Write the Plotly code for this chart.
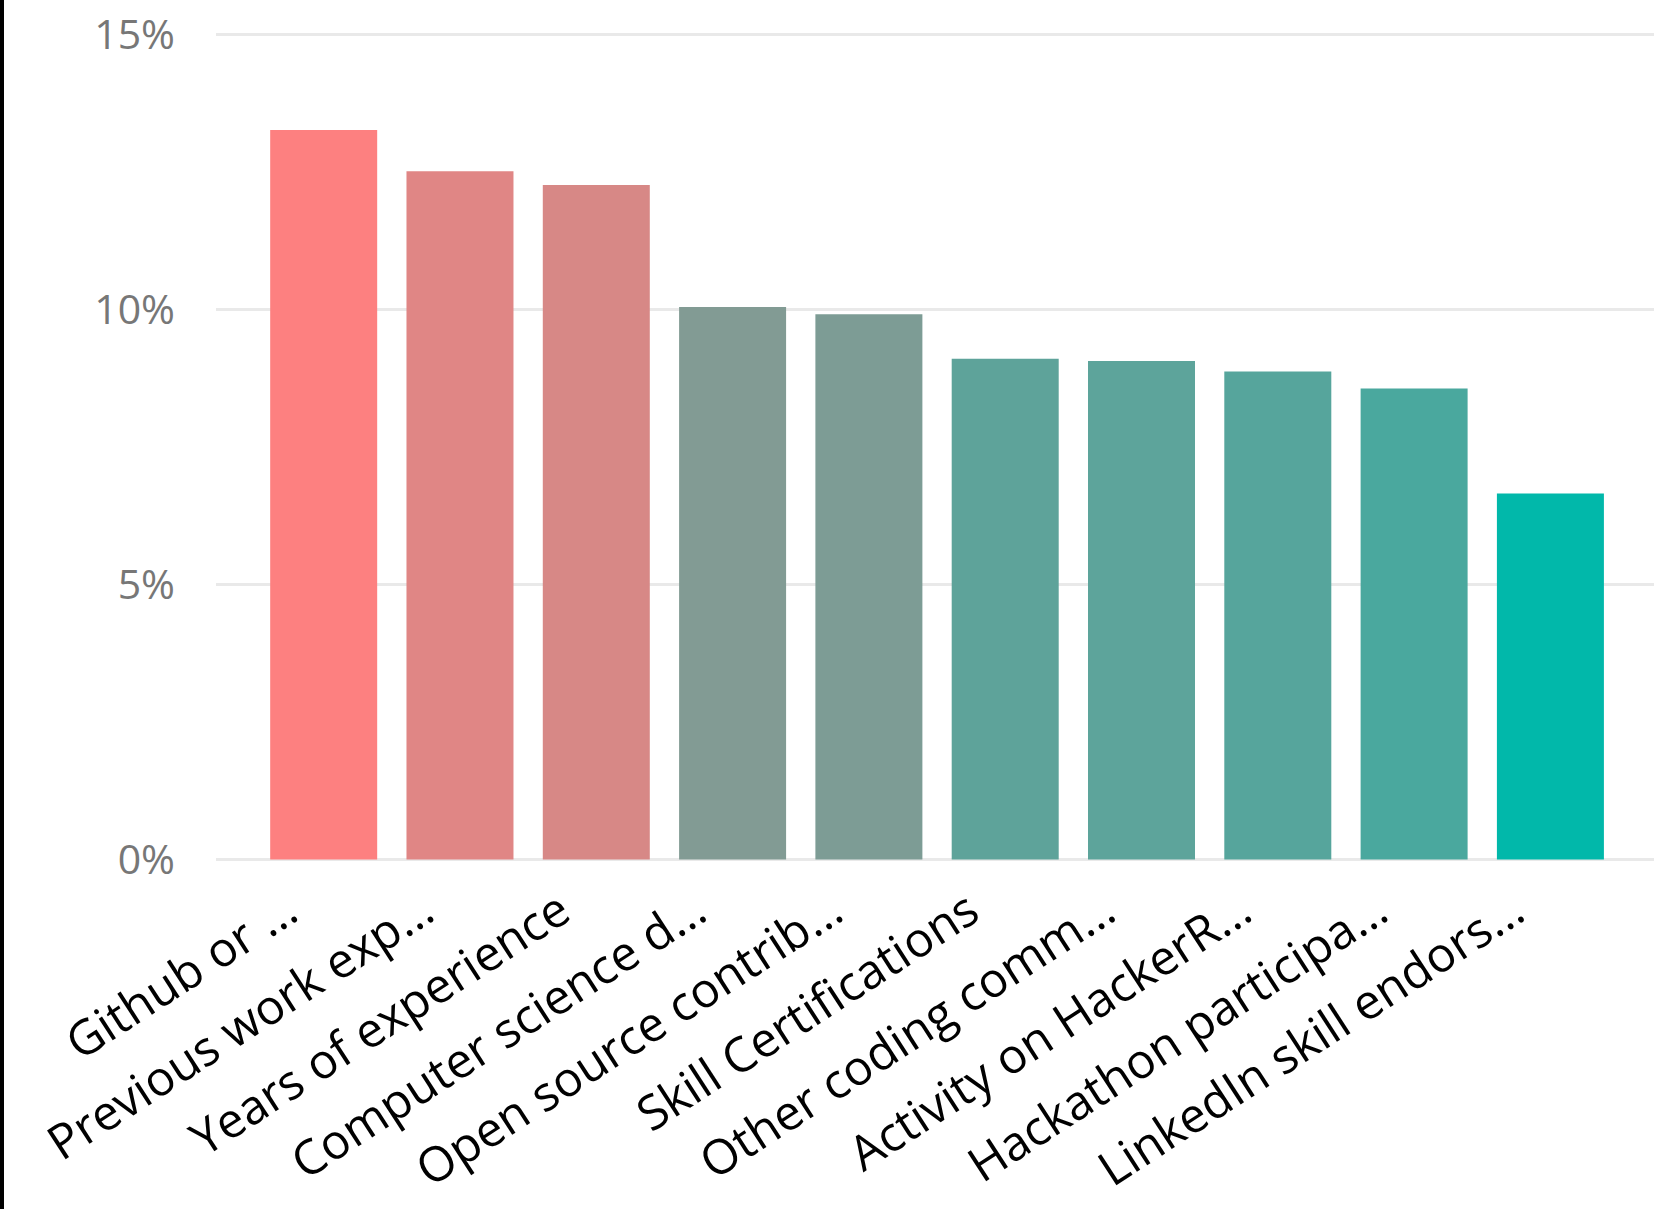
import plotly.graph_objects as go

categories = [
    "Github or …",
    "Previous work exp…",
    "Years of experience",
    "Computer science d…",
    "Open source contrib…",
    "Skill Certifications",
    "Other coding comm…",
    "Activity on HackerR…",
    "Hackathon participa…",
    "LinkedIn skill endors…",
]
values = [13.27, 12.52, 12.27, 10.05, 9.92, 9.11, 9.07, 8.88, 8.57, 6.66]
y_ticks = [0, 5, 10, 15]
y_tick_labels = ["0%", "5%", "10%", "15%"]

W, H = 1654, 1209
ML, MR = 216, 0
y0_px, y15_px = 859.6, 34.8
px_per_unit = (y0_px - y15_px) / 15.0
ymin, ymax = -0.1, 15.4
MB = H - (y0_px + (0 - ymin) * px_per_unit)
MT = y0_px - ymax * px_per_unit

fig = go.Figure(
    go.Bar(
        x=categories,
        y=values,
        marker=dict(
            color=values,
            colorscale=[[0, "#01B8AA"], [1, "#FD8080"]],
            cmin=min(values),
            cmax=max(values),
            line=dict(width=0),
        ),
        showlegend=False,
    )
)

plot_w = W - ML - MR
fig.add_shape(
    type="rect",
    xref="paper", yref="paper",
    x0=-ML / plot_w, x1=(-ML + 4) / plot_w,
    y0=-2, y1=3,
    fillcolor="black", line=dict(width=0), layer="above",
)

fig.update_layout(
    width=W, height=H,
    margin=dict(l=ML, r=MR, t=MT, b=MB, pad=0, autoexpand=False),
    paper_bgcolor="white", plot_bgcolor="white",
    bargap=0.215,
    font=dict(family="Open Sans, Noto Sans, sans-serif"),
    xaxis=dict(
        range=[-0.79, 9.76],
        showgrid=False, zeroline=False, showline=False,
        tickangle=-33,
        tickfont=dict(size=48, color="black"),
        ticks="",
        ticklabelshift=-36,
        ticklabelstandoff=8,
        automargin=False,
    ),
    yaxis=dict(
        range=[ymin, ymax],
        tickvals=y_ticks, ticktext=y_tick_labels,
        showgrid=True, gridcolor="#E9E9E9", gridwidth=3,
        zeroline=True, zerolinecolor="#E9E9E9", zerolinewidth=3,
        showline=False, ticks="",
        tickfont=dict(size=41, color="#777777"),
        ticklabelstandoff=40,
        automargin=False,
    ),
)

fig.write_html("out.html")
